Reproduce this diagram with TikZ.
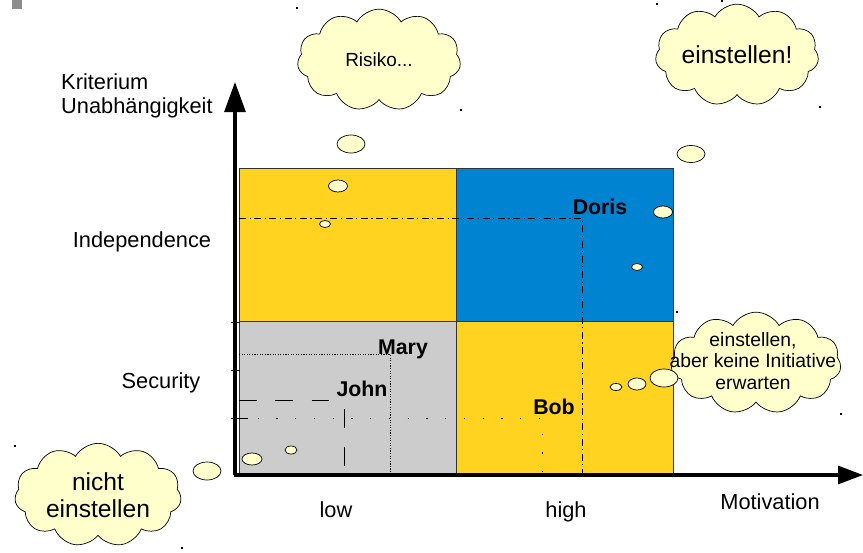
\documentclass[tikz,border=0pt]{standalone}
\usepackage{fontspec}
\setmainfont{Liberation Sans}
\usetikzlibrary{arrows.meta,shapes.symbols}
\definecolor{quadyellow}{HTML}{FFD320}
\definecolor{quadblue}{HTML}{0084D1}
\definecolor{quadgray}{HTML}{CCCCCC}
\definecolor{cloudfill}{HTML}{FFFFCC}
\begin{document}
\begin{tikzpicture}[x=0.03cm,y=-0.03cm,
		quad/.style={draw=black!80,line width=0.5pt},
		axis/.style={line width=2.6pt},
		thought/.style={cloud,cloud puffs=11,cloud puff arc=120,cloud ignores aspect,
			draw,fill=cloudfill,line width=0.6pt,inner sep=0pt,align=center},
		bubble/.style={draw,fill=cloudfill,line width=0.6pt},
		lbl/.style={font=\fontsize{18.6}{21}\selectfont},
		person/.style={font=\fontsize{18.2}{21}\selectfont\bfseries,inner sep=0pt},
		handle/.style={fill=black}
	]
	\useasboundingbox (0,0) rectangle (863,552);
	\fill[black!45] (12,0) rectangle (22,9);
	% quadrants
	\draw[quad,fill=quadyellow] (239,168) rectangle (456,321);
	\draw[quad,fill=quadblue] (456,168) rectangle (673,321);
	\draw[quad,fill=quadgray] (239,321) rectangle (456,473);
	\draw[quad,fill=quadyellow] (456,321) rectangle (673,473);
	% people
	\node[person] (doris) at (600,207) {Doris};
	\node[person] (mary) at (403,349) {Mary};
	\node[person] (john) at (362,389) {John};
	\node[person] (bob) at (554,407) {Bob};
	\coordinate (dorisC) at (582,218);
	\coordinate (maryC) at (390,354);
	\coordinate (johnC) at (344,400);
	\coordinate (bobC) at (542,418);
	\draw[line width=0.6pt,dash pattern=on 6pt off 3pt on 1pt off 3pt]
		(239,218) -- (dorisC) -- (582,473);
	\draw[line width=0.6pt,dash pattern=on 1pt off 1.2pt]
		(239,354) -- (maryC) -- (390,473);
	\draw[line width=0.7pt,dash pattern=on 15pt off 16pt]
		(239,400) -- (johnC);
	\draw[line width=0.7pt,dash pattern=on 16pt off 16pt,dash phase=24pt]
		(johnC) -- (344,473);
	\draw[line width=0.7pt,dash pattern=on 1pt off 15pt]
		(239,418) -- (bobC) -- (542,473);
	% ticks
	\foreach \ty/\tl in {322/5,370/5,418/13}
		\draw[line width=0.6pt] (231,\ty) -- (235+\tl,\ty);
	% axes
	\coordinate (origin) at (235,475);
	\coordinate (ytip) at (235,82);
	\coordinate (xtip) at (863,475);
	\draw[axis,-{Triangle[length=0.9cm,width=0.63cm]}] (origin) -- (ytip);
	\draw[axis,-{Triangle[length=0.75cm,width=0.54cm]}] (233.7,475) -- (xtip);
	\node[lbl,align=left,anchor=west,inner sep=0pt] (ylabel) at (61,96)
		{Kriterium\\Unabhängigkeit};
	\node[lbl] (indep) at (142,242) {Independence};
	\node[lbl] (secur) at (161,383) {Security};
	\node[lbl] (low) at (336,510) {low};
	\node[lbl] (high) at (566,512) {high};
	\node[lbl] (motiv) at (770,502) {Motivation};
	% clouds
	\node[thought,minimum width=4.9cm,minimum height=3.05cm,
		font=\fontsize{16.2}{19}\selectfont] (risiko) at (379,60) {Risiko...};
	\node[thought,minimum width=4.9cm,minimum height=3.05cm,
		font=\fontsize{21}{24}\selectfont] (yes) at (737,55) {einstellen!};
	\node[thought,minimum width=5.0cm,minimum height=3.1cm,
		font=\fontsize{21}{23}\selectfont] (no) at (98,495) {nicht\\einstellen};
	\node[thought,minimum width=5.1cm,minimum height=3.05cm] (maybe) at (756,363) {};
	\node[align=center,inner sep=0pt,font=\fontsize{16.5}{18}\selectfont]
		(maybetext) at (753,361) {einstellen,\\aber keine Initiative\\erwarten};
	% bubbles
	\foreach \bx/\by/\rx/\ry in {351/144/14/9,338/186/9.5/6,325/224/5.5/3.5,
		691/154/14/8.5,663/212/9.5/6,637/267/5.5/3.5,
		664/378/14/9,637/384/9/6,616/387/6/3.5,
		207/471/14/9,252/459/10/6,291/450/6/4}
		\draw[bubble] (\bx,\by) ellipse[x radius=\rx,y radius=\ry];
	% handles
	\foreach \hx/\hy in {297/8,461/110,657/4,722/1,820/107,677/312,841/414,15/446,182/548}
		\fill[handle] (\hx-1,\hy-1) rectangle (\hx+1,\hy+1);
\end{tikzpicture}
\end{document}
